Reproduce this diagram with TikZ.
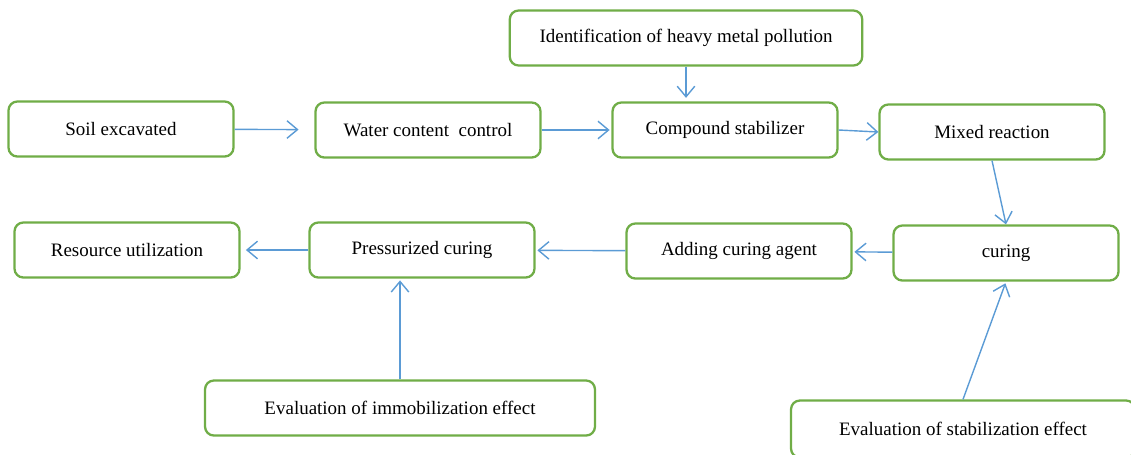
\documentclass[tikz,border=0pt]{standalone}
\usepackage{fontspec}
\setmainfont{Liberation Serif}
\usetikzlibrary{arrows.meta, positioning}
\definecolor{boxgreen}{RGB}{112,173,71}
\definecolor{arrowblue}{RGB}{91,155,213}

\begin{document}
\begin{tikzpicture}[x=0.02cm, y=-0.02cm,
    stepbox/.style={draw=boxgreen, line width=1.3pt, rounded corners=5pt, fill=white,
      minimum width=4.5cm, minimum height=1.1cm, inner sep=0pt,
      font=\fontsize{10.8}{13}\selectfont},
    widebox/.style={stepbox, minimum width=7.8cm},
    flow/.style={draw=arrowblue, line width=0.8pt,
      -{Straight Barb[length=6pt, width=10pt, line width=0.8pt]}}]
  \clip (0,0) rectangle (1131,454);

  % Top row
  \node[stepbox, minimum width=7.05cm] (ident) at (686,38) {Identification of heavy metal pollution};
  \node[stepbox] (soil) at (121,129) {Soil excavated};
  \node[stepbox] (water) at (428,130) {Water content\ \ control};
  \node[stepbox] (compound) at (725,130) {Compound stabilizer};
  \node[stepbox] (mixed) at (992,132) {Mixed reaction};

  % Middle row
  \node[stepbox] (curing) at (1006,253) {curing};
  \node[stepbox] (agent) at (739,251) {Adding curing agent};
  \node[stepbox] (press) at (422,250) {Pressurized curing};
  \node[stepbox] (resource) at (127,250) {Resource utilization};

  % Evaluation
  \node[widebox] (immob) at (400,408) {Evaluation of immobilization effect};
  \node[stepbox, minimum width=6.88cm, minimum height=1.14cm] (stab) at (963,429) {Evaluation of stabilization effect};

  % Arrows
  \draw[flow, shorten >=9pt] (soil) -- (water);
  \draw[flow, shorten >=1pt] (water) -- (compound);
  \draw[flow, shorten >=2pt] (ident.south) -- (ident.south |- compound.north);
  \draw[flow] (compound.east) -- (mixed.west);
  \draw[flow] (mixed.south) -- (curing.north);
  \draw[flow, shorten >=1pt] (curing) -- (agent);
  \draw[flow, shorten >=1pt] (agent) -- (press);
  \draw[flow, shorten >=3pt] (press) -- (resource);
  \draw[flow, shorten >=1pt] (immob.north) -- (immob.north |- press.south);
  \draw[flow, shorten >=1pt] (stab.north) -- (curing.south);
\end{tikzpicture}
\end{document}
